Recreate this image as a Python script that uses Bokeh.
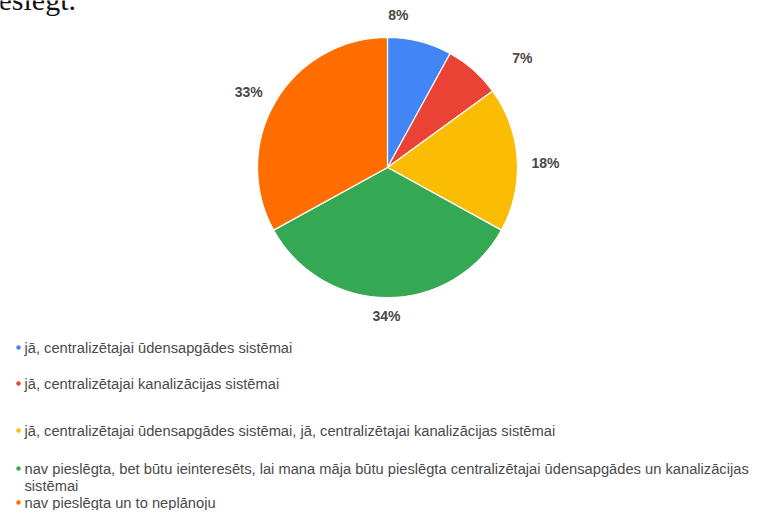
import math
from bokeh.plotting import figure
from bokeh.models import Range1d, ColumnDataSource
from bokeh.core.properties import value
from bokeh.embed import file_html
from bokeh.resources import INLINE

# ---- data ----
categories = [
    "jā, centralizētajai ūdensapgādes sistēmai",
    "jā, centralizētajai kanalizācijas sistēmai",
    "jā, centralizētajai ūdensapgādes sistēmai, jā, centralizētajai kanalizācijas sistēmai",
    "nav pieslēgta, bet būtu ieinteresēts, lai mana māja būtu pieslēgta centralizētajai ūdensapgādes un kanalizācijas\nsistēmai",
    "nav pieslēgta un to neplānoju",
]
shares = [8, 7, 18, 34, 33]
pct_labels = ["8%", "7%", "18%", "34%", "33%"]
colors = ["#4285F4", "#EA4335", "#FBBC04", "#34A853", "#FF6D01"]
heading_fragment = "eslēgt."

# ---- layout / style ----
W, H = 763, 510
CX, CY, R = 387, 343, 130
label_radius = [153, 174, 158, 149, 158]
label_nudge_deg = [-10.3, 9.4, 2.0, 0.4, -2.0]
legend_rows = [163, 127, 80, 42, 8]   # data-y of row centers (first line)
FONT = "Liberation Sans"
LEG_FS = 14.7

p = figure(width=W, height=H, output_backend="svg", toolbar_location=None,
           x_range=Range1d(0, W), y_range=Range1d(0, H), min_border=0)
p.axis.visible = False
p.grid.visible = False
p.outline_line_color = None
p.background_fill_color = "white"
p.border_fill_color = "white"

# cropped heading fragment at the very top (only its lower part is visible, as in the source)
p.text(x=[-2], y=[511], text=[heading_fragment], text_font=value("Liberation Serif"),
       text_font_size="30px", text_color="#111111", text_align="left",
       text_baseline="alphabetic")

total = float(sum(shares))
cum = [0.0]
for s in shares:
    cum.append(cum[-1] + s / total)

starts = [math.pi / 2 - cum[i + 1] * 2 * math.pi for i in range(len(shares))]
ends = [math.pi / 2 - cum[i] * 2 * math.pi for i in range(len(shares))]

src = ColumnDataSource(dict(start=starts, end=ends, color=colors))
p.wedge(x=CX, y=CY, radius=R, start_angle="start", end_angle="end",
        fill_color="color", line_color="white", line_width=1.2, source=src)

# percentage labels
lx, ly = [], []
for i in range(len(shares)):
    mid = (cum[i] + cum[i + 1]) / 2 * 360 + label_nudge_deg[i]
    a = math.radians(mid)
    lx.append(CX + label_radius[i] * math.sin(a))
    ly.append(CY + label_radius[i] * math.cos(a))
p.text(x=lx, y=ly, text=pct_labels, text_font=value(FONT), text_font_size="14px",
       text_font_style="bold", text_color="#484848", text_align="center",
       text_baseline="middle")

# legend
p.scatter(x=[18] * len(categories), y=legend_rows, size=4.5, color=colors, line_color=None)
p.text(x=[24] * len(categories), y=[t + LEG_FS / 2 for t in legend_rows], text=categories,
       text_font=value(FONT), text_font_size=f"{LEG_FS}px", text_color="#4a4a4a",
       text_align="left", text_baseline="top", text_line_height=1.08)

open("out.html", "w").write(file_html(p, INLINE))
